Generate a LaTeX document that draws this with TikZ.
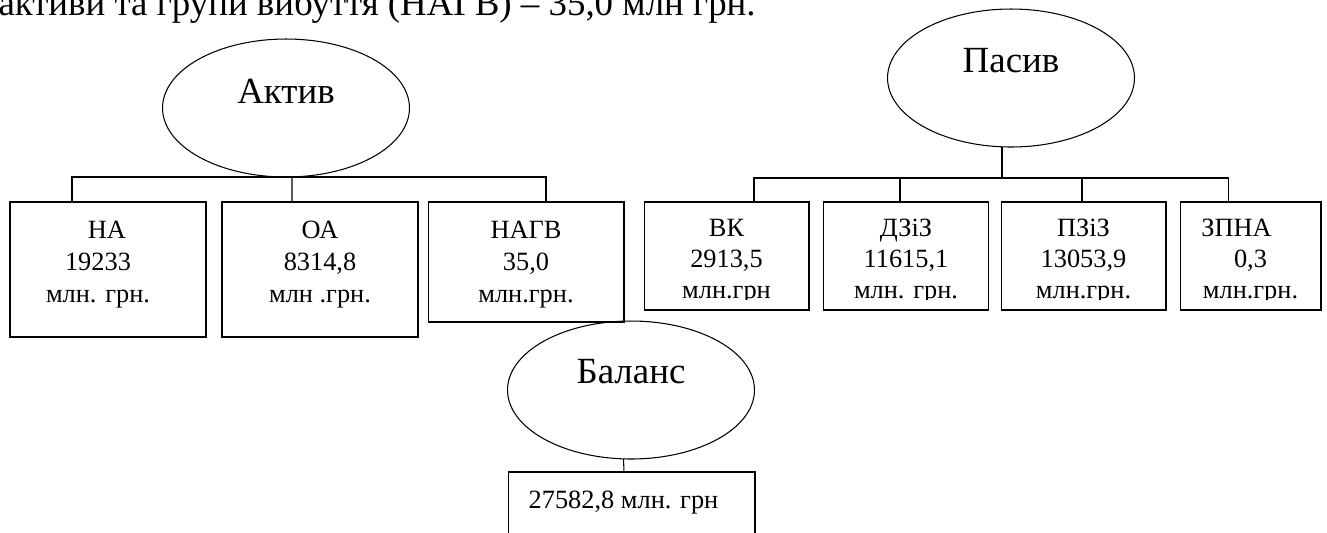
\documentclass[tikz,border=0pt]{standalone}
\usepackage{fontspec}
\setmainfont{Liberation Serif}
\usetikzlibrary{shapes.geometric}

\begin{document}
\begin{tikzpicture}[x=0.02cm, y=-0.02cm, line width=0.6pt,
		oval/.style={draw, ellipse, minimum width=4.94cm, minimum height=2.76cm, inner sep=0pt, outer sep=0pt},
		ovaltext/.style={font=\fontsize{21}{25}\selectfont, anchor=base, inner sep=0pt},
		box/.style={draw, rectangle, inner sep=0pt, outer sep=0pt},
		boxtext/.style={font=\fontsize{15}{18.2}\selectfont, align=center, anchor=north, inner sep=0pt}]
		\useasboundingbox (0,0) rectangle (1327,532);

		% line of text above, cut by the page edge
		\node[font=\fontsize{21}{25}\selectfont, anchor=base west, inner sep=0pt] (heading) at (-2,15) {активи та групи вибуття (НАГВ) – 35,0 млн грн.};

		% assets
		\node[oval] (aktiv) at (286,108) {};
		\node[ovaltext] (aktivtxt) at ([yshift=0.1cm]aktiv.center) {Актив};
		\node[box, minimum width=3.92cm, minimum height=2.7cm] (na) at (108,269.5) {};
		\node[box, minimum width=3.92cm, minimum height=2.7cm] (oa) at (320,269.5) {};
		\node[box, minimum width=3.92cm, minimum height=2.4cm] (nagv) at (526,262) {};
		\node[boxtext] (natxt) at ([xshift=-0.2cm]na.north) {\rule{0pt}{0.72cm}НА\kern-0.36cm\\19233\\млн. грн.};
		\node[boxtext] (oatxt) at (oa.north) {\rule{0pt}{0.72cm}ОА\\8314,8\\млн .грн.};
		\node[boxtext] (nagvtxt) at (nagv.north) {\rule{0pt}{0.72cm}НАГВ\\35,0\\млн.грн.};
		\coordinate (aktivbus) at (292,177);
		\draw ([xshift=-0.72cm]na.north) |- (aktivbus) -| ([xshift=0.4cm]nagv.north);
		\draw ([xshift=-0.56cm]oa.north) -- (aktivbus);

		% liabilities
		\node[oval] (pasiv) at (1011,78) {};
		\node[ovaltext] (pasivtxt) at ([yshift=0.12cm]pasiv.center) {Пасив};
		\node[box, minimum width=3.3cm, minimum height=2.16cm] (vk) at (726.5,256) {};
		\node[box, minimum width=3.3cm, minimum height=2.16cm] (dziz) at (906,256) {};
		\node[box, minimum width=3.3cm, minimum height=2.16cm] (pziz) at (1083.5,256) {};
		\node[box, minimum width=2.82cm, minimum height=2.16cm] (zpna) at (1250.5,256) {};
		\begin{scope}[boxtext/.append style={font=\fontsize{15}{17.6}\selectfont}]
			\clip (630,200) rectangle (1327,299);
			\node[boxtext] (vktxt) at (vk.north) {\rule{0pt}{0.68cm}ВК\\2913,5\\млн.грн};
			\node[boxtext] (dziztxt) at (dziz.north) {\rule{0pt}{0.68cm}ДЗіЗ\\11615,1\\млн. грн.};
			\node[boxtext] (pziztxt) at (pziz.north) {\rule{0pt}{0.68cm}ПЗіЗ\\13053,9\\млн.грн.};
			\node[boxtext] (zpnatxt) at (zpna.north) {\rule{0pt}{0.68cm}ЗПНА\kern0.56cm\\0,3\\млн.грн.};
		\end{scope}
		\coordinate (pasivbus) at (1002,178);
		\draw (pasiv.south -| pasivbus) -- (pasivbus);
		\draw ([xshift=0.55cm]vk.north) |- (pasivbus) -| ([xshift=-0.45cm]zpna.north);
		\draw ([xshift=-0.12cm]dziz.north) -- ([xshift=-0.12cm]dziz.north |- pasivbus);
		\draw ([xshift=-0.03cm]pziz.north) -- ([xshift=-0.03cm]pziz.north |- pasivbus);

		% balance
		\node[oval] (balans) at (631,390) {};
		\node[ovaltext] (balanstxt) at ([yshift=0.14cm]balans.center) {Баланс};
		\node[box, minimum width=4.94cm, minimum height=1.76cm] (total) at (631.5,516) {};
		\node[boxtext] (totaltxt) at ([xshift=-0.16cm]total.north) {\rule{0pt}{0.72cm}27582,8 млн. грн};
		\draw ([xshift=-0.15cm]balans.south) -- ([xshift=-0.15cm]total.north);
\end{tikzpicture}
\end{document}
